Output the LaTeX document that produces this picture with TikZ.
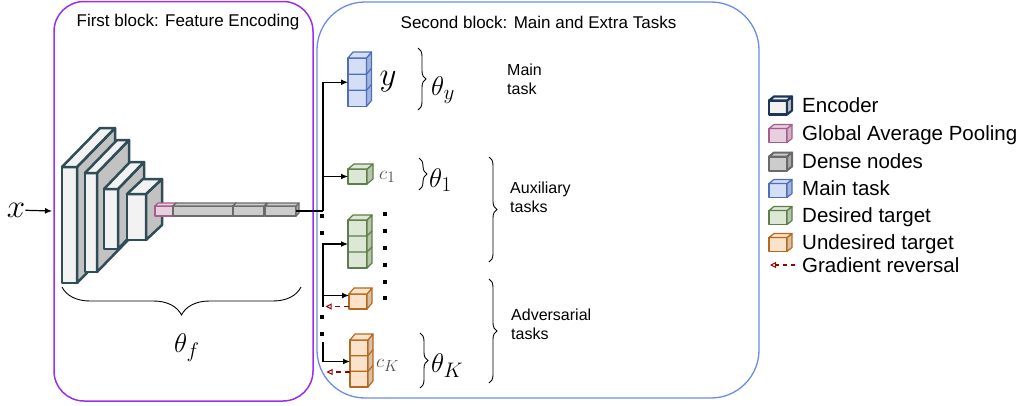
\RequirePackage{fix-cm}
\documentclass[tikz,border=0pt]{standalone}
\usepackage[no-math]{fontspec}
\setmainfont{Liberation Sans}
\usetikzlibrary{arrows.meta,decorations.pathreplacing}
\DeclareMathSizes{27}{27}{21}{16}
\DeclareMathSizes{19}{19}{16}{12}
\DeclareMathSizes{33}{33}{24}{18}

\definecolor{encline}{HTML}{2F4D57}
\definecolor{encfill}{HTML}{F2F2F2}
\definecolor{encside}{HTML}{C2C2C2}
\definecolor{gapline}{HTML}{A65C8C}
\definecolor{gapfill}{HTML}{E6D0DE}
\definecolor{gapside}{HTML}{CFB3C5}
\definecolor{denline}{HTML}{6A6A6A}
\definecolor{denfill}{HTML}{CCCCCC}
\definecolor{denside}{HTML}{A8A8A8}
\definecolor{bluline}{HTML}{4F6EB8}
\definecolor{blufill}{HTML}{D4DEF7}
\definecolor{bluside}{HTML}{A3B4DD}
\definecolor{grnline}{HTML}{5E7D48}
\definecolor{grnfill}{HTML}{DCE8D5}
\definecolor{grnside}{HTML}{B5C6AC}
\definecolor{orgline}{HTML}{B36A20}
\definecolor{orgfill}{HTML}{FAE3CA}
\definecolor{orgside}{HTML}{D9C0A4}
\definecolor{legenc}{HTML}{1E3558}
\definecolor{purp}{HTML}{9A2EF0}
\definecolor{bluebox}{HTML}{6B8CE6}
\definecolor{revred}{HTML}{990000}
\definecolor{lblgray}{HTML}{505050}

\newcommand\mkcube[5]{\tikzset{
  #1front/.style={draw=#2,fill=#3,line width=#5,line join=round,inner sep=0pt,outer sep=0pt},
  #1side/.style={draw=#2,fill=#4,line width=#5,line join=round},
  #1top/.style={draw=#2,fill=#3,line width=#5,line join=round},
  #1div/.style={draw=#2,line width=#5}}}
\mkcube{enc}{encline}{encfill}{encside}{2.5pt}
\mkcube{gap}{gapline}{gapfill}{gapside}{1.2pt}
\mkcube{den}{denline}{denfill}{denside}{1.2pt}
\mkcube{blu}{bluline}{blufill}{bluside}{1.2pt}
\mkcube{grn}{grnline}{grnfill}{grnside}{1.2pt}
\mkcube{org}{orgline}{orgfill}{orgside}{1.2pt}
\mkcube{lenc}{legenc}{encfill}{encside}{2.2pt}
\mkcube{lden}{denline}{denfill}{denside}{2pt}

% name, x, y (front top-left), w, h, dx, dy, style prefix, cells
\newcommand\tdbox[9]{%
  \node[#8front,minimum width=#4pt,minimum height=#5pt,anchor=north west] (#1) at (#2,#3) {};
  \draw[#8side] (#1.north east) -- ++(#6,-#7) -- ++(0,#5) -- (#1.south east) -- cycle;
  \draw[#8top] (#1.north west) -- ++(#6,-#7) -- ++(#4,0) -- (#1.north east) -- cycle;
  \ifnum#9>1
    \foreach \k in {2,...,#9}{%
      \pgfmathsetmacro\yy{#3+(\k-1)*#5/#9}
      \draw[#8div] (#2,\yy) -- ++(#4,0) -- ++(#6,-#7);
    }%
  \fi
}

\tikzset{
  ttl/.style={font=\fontsize{17}{20}\selectfont,inner sep=0pt},
  task/.style={font=\fontsize{16}{19}\selectfont,align=left,inner sep=0pt,anchor=west},
  legtxt/.style={font=\fontsize{20.5}{24}\selectfont,inner sep=0pt,anchor=base west},
  bigm/.style={font=\fontsize{33}{36}\selectfont,inner sep=0pt},
  thm/.style={font=\fontsize{27}{30}\selectfont,inner sep=0pt,anchor=base west},
  clbl/.style={font=\fontsize{19}{22}\selectfont,inner sep=0pt,anchor=base west,text=lblgray},
  conn/.style={draw=black,line width=1.2pt},
  arr/.style={conn,-{Latex[length=7pt,width=6pt]}},
  rev/.style={draw=revred,line width=1.2pt,dash pattern=on 5pt off 4pt,-{Triangle[open,length=6pt,width=6pt,line width=1pt]}},
  brc/.style={draw=black,line width=0.9pt,decorate,decoration={brace,amplitude=#1}},
  sqdot/.style={fill=black,inner sep=0pt,minimum size=3.6pt,shape=rectangle}
}

\begin{document}
\begin{tikzpicture}[x=1pt,y=-1pt]
\useasboundingbox (0,0) rectangle (1021,405);

% blocks
\draw[purp,line width=1.5pt,rounded corners=30pt] (54,1.5) rectangle (313,401);
\draw[bluebox,line width=1.3pt,rounded corners=48pt] (317,2) rectangle (759,398);
\node[ttl] (t1) at (188,22) {First block: Feature Encoding};
\node[ttl] (t2) at (538.5,22) {Second block: Main and Extra Tasks};

% input
\node[bigm] (x) at (16,210) {$x$};
\coordinate (xin) at (52,211);
\draw[arr] (x) -- (xin);

% encoder slabs
\tdbox{s1}{62}{167}{15}{116}{38}{39}{enc}{1}
\tdbox{s2}{85}{173}{12}{99}{32}{33}{enc}{1}
\tdbox{s3}{104}{189}{14}{60}{26}{27}{enc}{1}
\tdbox{s4}{127}{194}{19}{46}{16}{15}{enc}{1}

% GAP and dense
\tdbox{gp}{155}{206}{18}{10}{3}{3}{gap}{1}
\tdbox{d1}{173}{206}{60}{10}{3}{3}{den}{1}
\tdbox{d2}{233}{206}{31}{10}{3}{3}{den}{1}
\tdbox{d3}{265}{206}{31}{10}{3}{3}{den}{1}

% theta_f brace
\coordinate (bfa) at (301,287);
\coordinate (bfb) at (62,287);
\draw[brc=28pt] (bfa) -- (bfb);
\node[thm] (thf) at (174,352) {$\theta_f$};

% task heads
\tdbox{ym}{348}{58}{18.5}{48.5}{5}{6}{blu}{3}
\tdbox{c1}{348}{169}{19}{15}{6}{5}{grn}{1}
\tdbox{g2}{348}{220}{19}{48}{5}{5}{grn}{3}
\tdbox{o1}{349}{294}{18}{15}{5}{6}{org}{1}
\tdbox{oK}{350}{340}{18}{47}{5}{6}{org}{3}

% trunk
\coordinate (ta) at (323,211);
\draw[conn] (d3.east) -- (ta);
\draw[arr] (ta) |- (ym.west);
\draw[arr] (ta |- c1.west) -- (c1.west);
\coordinate (tb) at (323,307);
\draw[arr] (tb) |- (g2.west);
\coordinate (o1in) at ([yshift=6pt]o1.west);
\draw[arr] (tb |- o1in) -- (o1in);
\coordinate (tc) at (323,342);
\coordinate (oKin) at ([yshift=2pt]oK.west);
\draw[arr] (tc) |- (oKin);
\coordinate (r1) at (325.5,306.5);
\draw[rev] ([yshift=-5pt]o1.west) -- (r1);
\coordinate (r2) at (326.5,372);
\draw[rev] (oK.west |- r2) -- (r2);

% dots
\foreach \yy [count=\i] in {216,233,317,334} \node[sqdot] (dl\i) at (322,\yy) {};
\foreach \yy [count=\i] in {214,231,248,265,282,298} \node[sqdot] (dr\i) at (385,\yy) {};

% labels
\node[bigm] (ylab) at (388,82) {$y$};
\node[clbl] (c1lab) at (379,179) {$c_1$};
\node[clbl] (cKlab) at (376,367) {$c_K$};
\node[thm] (thy) at (431,95) {$\theta_y$};
\node[thm] (th1) at (429,187) {$\theta_1$};
\node[thm] (thK) at (431,372) {$\theta_K$};

% braces
\coordinate (bya) at (418,48);  \coordinate (byb) at (418,110);
\draw[brc=8pt] (bya) -- (byb);
\coordinate (b1a) at (419,158); \coordinate (b1b) at (419,190);
\draw[brc=8pt] (b1a) -- (b1b);
\coordinate (bKa) at (420,333); \coordinate (bKb) at (420,388);
\draw[brc=8pt] (bKa) -- (bKb);
\coordinate (baa) at (489,157); \coordinate (bab) at (489,262);
\draw[brc=8pt] (baa) -- (bab);
\coordinate (bda) at (489,279); \coordinate (bdb) at (489,383);
\draw[brc=8pt] (bda) -- (bdb);

% task texts
\node[task] (tmain) at (507,79) {Main\\task};
\node[task] (taux) at (510,197) {Auxiliary\\tasks};
\node[task] (tadv) at (511,324) {Adversarial\\tasks};

% legend
\tdbox{lg1}{769}{100.5}{18}{14}{5}{4}{lenc}{1}
\tdbox{lg2}{769}{128.5}{18}{14}{5}{4}{gap}{1}
\tdbox{lg3}{769}{156.5}{18}{14}{5}{4}{lden}{1}
\tdbox{lg4}{769}{183.5}{18}{14}{5}{4}{blu}{1}
\tdbox{lg5}{769}{210.5}{18}{14}{5}{4}{grn}{1}
\tdbox{lg6}{769}{237.5}{18}{14}{5}{4}{org}{1}
\coordinate (lga) at (795,265);
\coordinate (lgb) at (770,265);
\draw[rev,dash pattern=on 4pt off 4pt] (lga) -- (lgb);
\node[legtxt] (lt1) at (802,112.3) {Encoder};
\node[legtxt] (lt2) at (802,140.3) {Global Average Pooling};
\node[legtxt] (lt3) at (802,168.3) {Dense nodes};
\node[legtxt] (lt4) at (802,195.3) {Main task};
\node[legtxt] (lt5) at (802,222.3) {Desired target};
\node[legtxt] (lt6) at (802,249.3) {Undesired target};
\node[legtxt] (lt7) at (802,272.3) {Gradient reversal};
\end{tikzpicture}
\end{document}
